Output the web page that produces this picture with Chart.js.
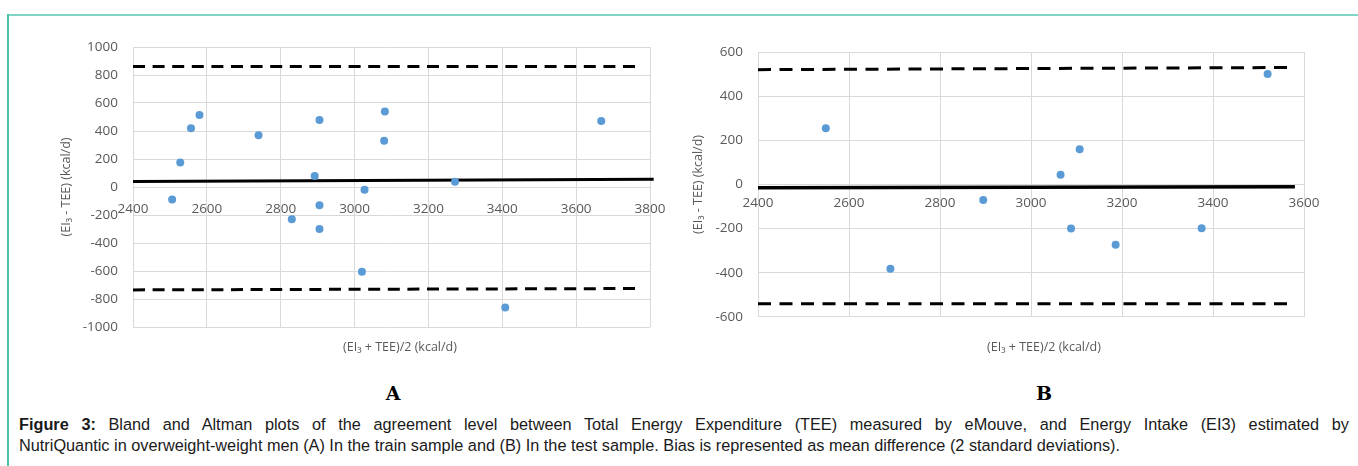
<!DOCTYPE html>
<html lang="en">
<head>
<meta charset="utf-8">
<title>Bland and Altman plots</title>
<script src="https://cdn.jsdelivr.net/npm/chart.js@4.4.1/dist/chart.umd.min.js"></script>
<style>
  body { margin: 0; background: #fff; width: 1358px; height: 466px; overflow: hidden; position: relative; font-family: "Open Sans", sans-serif; }
  .frame-top { position: absolute; left: 8px; top: 14px; width: 1350px; height: 2px; background: #7fd4c6; }
  .frame-left { position: absolute; left: 7px; top: 14px; width: 2px; height: 452px; background: #4cc2ae; }
  canvas { position: absolute; top: 0; }
  #chartA { left: 0; }
  #chartB { left: 680px; }
  .xtitle { position: absolute; top: 339px; font-size: 12.5px; line-height: 16px; color: #595959; transform: translateX(-50%); white-space: nowrap; }
  .panel { position: absolute; top: 382px; font-family: "DejaVu Serif", serif; font-weight: bold; font-size: 19px; line-height: 22px; transform: translateX(-50%); }
  .caption { position: absolute; left: 19px; top: 414px; width: 1330px; font-family: "Liberation Sans", Arial, sans-serif; font-size: 16.3px; line-height: 21px; color: #1a1a1a; }
  .caption .l1 { text-align: justify; text-align-last: justify; }
</style>
</head>
<body>
<div class="frame-top"></div>
<div class="frame-left"></div>

<canvas id="chartA" width="680" height="352"></canvas>
<canvas id="chartB" width="678" height="340"></canvas>

<div class="xtitle" style="left:400px">(EI₃ + TEE)/2 (kcal/d)</div>
<div class="xtitle" style="left:1044px">(EI₃ + TEE)/2 (kcal/d)</div>
<div class="panel" style="left:393px">A</div>
<div class="panel" style="left:1044px">B</div>

<div class="caption">
  <div class="l1"><b>Figure 3:</b> Bland and Altman plots of the agreement level between Total Energy Expenditure (TEE) measured by eMouve, and Energy Intake (EI3) estimated by</div>
  <div>NutriQuantic in overweight-weight men (A) In the train sample and (B) In the test sample. Bias is represented as mean difference (2 standard deviations).</div>
</div>

<script>
// A: train sample
var aAvg  = [2506, 2528, 2557, 2580, 2740, 2830, 2892, 2905, 2905, 2905, 3020, 3027, 3080, 3082, 3272, 3408, 3668];
var aDiff = [-90, 175, 420, 515, 370, -230, 78, 478, -130, -300, -605, -20, 330, 540, 38, -860, 472];
var aLimitX = [2400, 3780];
var aUpper  = [860, 860];
var aLower  = [-735, -725];
var aBiasX  = [2400, 3810];
var aBias   = [40, 55];
var aXTicks = [2400, 2600, 2800, 3000, 3200, 3400, 3600, 3800];
var aYTicks = [-1000, -800, -600, -400, -200, 0, 200, 400, 600, 800, 1000];

// B: test sample
var bAvg  = [2549, 2691, 2895, 3065, 3088, 3107, 3186, 3375, 3520];
var bDiff = [255, -382, -70, 44, -200, 160, -273, -198, 500];
var bLimitX = [2400, 3580];
var bUpper  = [520, 530];
var bLower  = [-540, -540];
var bBiasX  = [2400, 3580];
var bBias   = [-15, -10];
var bXTicks = [2400, 2600, 2800, 3000, 3200, 3400, 3600];
var bYTicks = [-600, -400, -200, 0, 200, 400, 600];

Chart.defaults.font.family = "'Open Sans', sans-serif";

function pts(xs, ys) {
  return xs.map(function (x, i) { return { x: x, y: ys[i] }; });
}

function plain(v) { return String(v); }

function bland(id, p) {
  new Chart(document.getElementById(id), {
    type: 'scatter',
    data: {
      datasets: [
        { data: pts(p.avg, p.diff), pointRadius: 4, pointHoverRadius: 4, pointBackgroundColor: '#5b9bd5', pointBorderWidth: 0 },
        { data: pts(p.limitX, p.upper), showLine: true, borderColor: '#000', borderWidth: 3, borderDash: p.dash, pointRadius: 0 },
        { data: pts(p.limitX, p.lower), showLine: true, borderColor: '#000', borderWidth: 3, borderDash: p.dash, pointRadius: 0 },
        { data: pts(p.biasX, p.bias), showLine: true, borderColor: '#000', borderWidth: p.biasWidth, pointRadius: 0, clip: false }
      ]
    },
    options: {
      responsive: false,
      animation: false,
      devicePixelRatio: 1,
      layout: { padding: p.pad },
      plugins: { legend: { display: false }, tooltip: { enabled: false } },
      scales: {
        x: {
          type: 'linear',
          position: { y: 0 },
          min: p.xTicks[0],
          max: p.xTicks[p.xTicks.length - 1],
          afterBuildTicks: function (s) { s.ticks = p.xTicks.map(function (v) { return { value: v }; }); },
          grid: { color: '#d9d9d9', drawTicks: false },
          border: { color: '#d9d9d9' },
          ticks: { color: '#595959', padding: p.xPad, font: { size: 13.5 }, maxRotation: 0, autoSkip: false, callback: plain }
        },
        y: {
          min: p.yTicks[0],
          max: p.yTicks[p.yTicks.length - 1],
          afterBuildTicks: function (s) { s.ticks = p.yTicks.map(function (v) { return { value: v }; }); },
          afterFit: function (s) { s.width = p.yWidth; },
          grid: { color: '#d9d9d9', drawTicks: false },
          border: { display: false },
          ticks: { color: '#595959', padding: p.yPad, font: { size: 13.5 }, callback: plain },
          title: { display: true, text: '(EI₃ - TEE) (kcal/d)', color: '#595959', font: { size: 12.5 }, padding: { top: p.titlePad, bottom: 0 } }
        }
      }
    }
  });
}

bland('chartA', {
  avg: aAvg, diff: aDiff, limitX: aLimitX, upper: aUpper, lower: aLower, biasX: aBiasX, bias: aBias,
  xTicks: aXTicks, yTicks: aYTicks, dash: [12, 7.6], biasWidth: 3,
  pad: { left: 0, right: 30, top: 47, bottom: 25 }, yWidth: 133, yPad: 15, xPad: 14, titlePad: 58.5
});

bland('chartB', {
  avg: bAvg, diff: bDiff, limitX: bLimitX, upper: bUpper, lower: bLower, biasX: bBiasX, bias: bBias,
  xTicks: bXTicks, yTicks: bYTicks, dash: [13, 8.5], biasWidth: 3.5,
  pad: { left: 0, right: 54, top: 52, bottom: 23 }, yWidth: 78, yPad: 15, xPad: 11, titlePad: 10.5
});
</script>
</body>
</html>
